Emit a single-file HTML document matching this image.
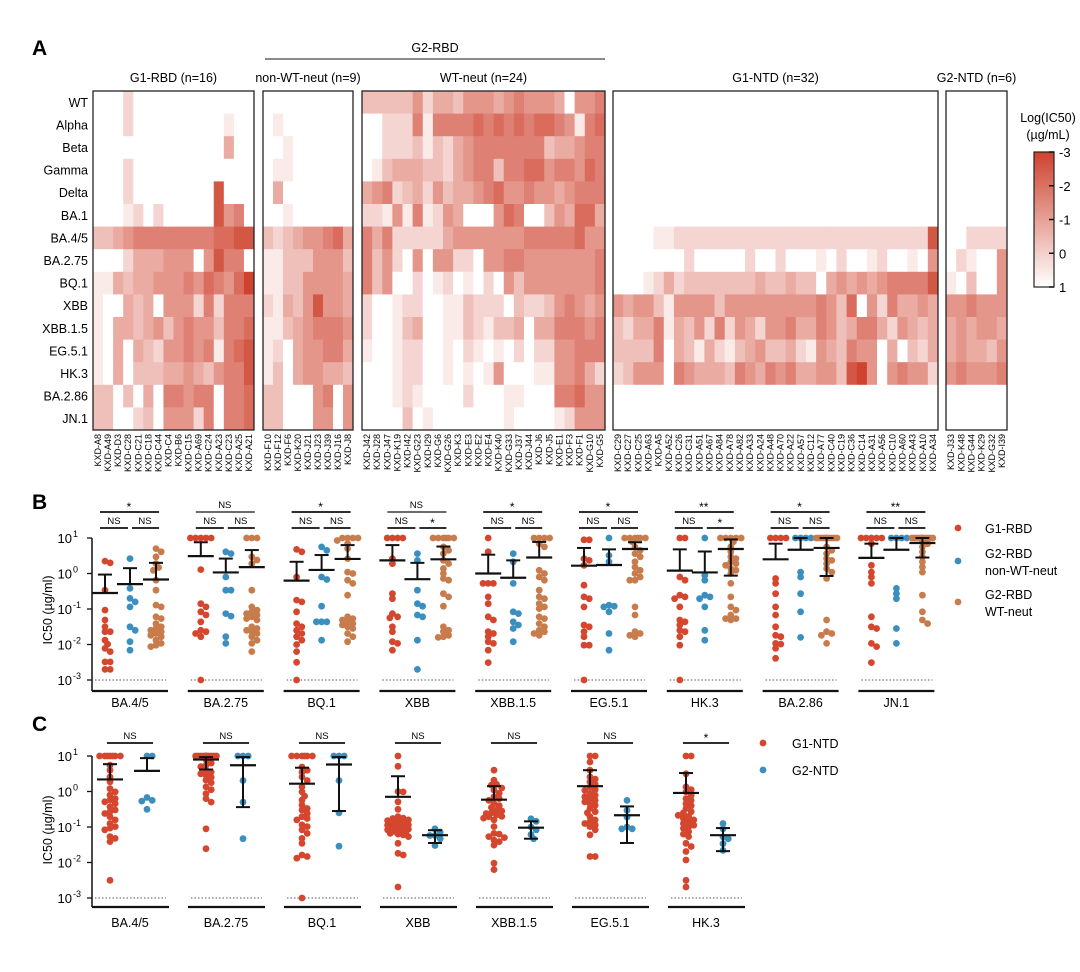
<!DOCTYPE html>
<html><head><meta charset="utf-8"><style>
html,body{margin:0;padding:0;background:#fff}
svg{display:block;font-family:"Liberation Sans",Arial,sans-serif}
</style></head><body>
<svg id="fig" width="1080" height="972" viewBox="0 0 1080 972" xmlns="http://www.w3.org/2000/svg"></svg>
<script>
// ---------- Panel A data (intensity codes 0..9 -> log IC50 = 1 - code*4/9) ----------
const variants=["WT","Alpha","Beta","Gamma","Delta","BA.1","BA.4/5","BA.2.75","BQ.1","XBB","XBB.1.5","EG.5.1","HK.3","BA.2.86","JN.1"];
const g1rbdCols=["KXD-A8","KXD-A49","KXD-D3","KXD-C28","KXD-C21","KXD-C18","KXD-C44","KXD-C4","KXD-B6","KXD-C15","KXD-A69","KXD-C24","KXD-A23","KXD-C23","KXD-A25","KXD-A21"];
const g1rbdCodes=["0002000000000000","0002000000000100","0000000000000400","0002000000000000","0002000000008000","0001202000008560","3345666666667788","0002444555058660","1143445556576579","1004340555262666","1044345356553667","1040432556561678","1040333445435668","3303040665660667","3300230555260667"];
const nonwtCols=["KXD-F10","KXD-F12","KXD-F6","KXD-K20","KXD-J21","KXD-J23","KXD-J39","KXD-J16","KXD-J8"];
const nonwtCodes=["000000000","010000000","001000000","011000000","040000000","001000000","323455674","113335553","113355554","214358554","113456665","120455664","130455443","330005605","330005505"];
const wtCols=["KXD-J42","KXD-J28","KXD-J47","KXD-K19","KXD-I42","KXD-G23","KXD-I29","KXD-G6","KXD-G26","KXD-K3","KXD-E3","KXD-E2","KXD-E4","KXD-K40","KXD-G33","KXD-J37","KXD-J44","KXD-J6","KXD-J5","KXD-E1","KXD-F3","KXD-F1","KXD-G10","KXD-G5"];
const wtCodes=["333335244355545655540556","002226166667676767765167","002223132456666666344566","013444332456636677566576","456234253445675565545666","221516125400057600354774","646222224555555566666755","635205055220556655555556","635002012010205355555556","200122001132220322356545","200134001132133404466656","100122001021010202255666","000122001010150001155642","000121000020001100066755","000030100000001000012555"];
const g1ntdCols=["KXD-C29","KXD-C27","KXD-C25","KXD-A63","KXD-A5","KXD-A52","KXD-C26","KXD-C31","KXD-A51","KXD-A67","KXD-A84","KXD-A78","KXD-A82","KXD-A33","KXD-A24","KXD-A48","KXD-A70","KXD-A22","KXD-A57","KXD-C12","KXD-A77","KXD-C40","KXD-C19","KXD-C36","KXD-C14","KXD-A31","KXD-A56","KXD-C10","KXD-A60","KXD-A43","KXD-A10","KXD-A34"];
const g1ntdCodes=["00000000 00000000 00000000 00000000","00000000 00000000 00000000 00000000","00000000 00000000 00000000 00000000","00000000 00000000 00000000 00000000","00000000 00000000 00000000 00000000","00000000 00000000 00000000 00000000",
"00001122 22222222 22222222 22222228","00000002 00000200 20001020 01200105","00012423 33333343 34330454 54566668","54553155 55355555 55556537 05264454","32446143 52625425 56446534 66425434","33336043 14213453 34215436 55040324","23555065 44436546 56445538 95056552","00000000 00000000 00000000 00000000","00000000 00000000 00000000 00000000"];
const g2ntdCols=["KXD-J33","KXD-K48","KXD-G44","KXD-K29","KXD-G32","KXD-I39"];
const g2ntdCodes=["000000","000000","000000","000000","000000","000000","002222","021005","103005","556555","454554","454435","565556","000000","000000"];
const cbTicks=["-3","-2","-1","0","1"];

// ---------- Panel B data (log10 IC50, µg/ml) ----------
const bVariants=["BA.4/5","BA.2.75","BQ.1","XBB","XBB.1.5","EG.5.1","HK.3","BA.2.86","JN.1"];
const bTopSig=["*","NS","*","NS","*","*","**","*","**"];
const bPair1Sig=["NS","NS","NS","NS","NS","NS","NS","NS","NS"];
const bPair2Sig=["NS","NS","NS","*","NS","NS","*","NS","NS"];
const bRed=[[0.35,0.3,-0.47,-1.03,-1.31,-1.5,-1.64,-1.64,-1.88,-1.99,-2.11,-2.2,-2.49,-2.49,-2.7,-2.7],[1,1,1,1,1,0.11,-0.85,-0.94,-1.08,-1.17,-1.36,-1.6,-1.64,-1.69,-1.78,-3],[0.68,0.61,-0.1,-0.75,-0.8,-1.08,-1.41,-1.5,-1.6,-1.69,-1.78,-1.88,-2.0,-2.2,-2.5,-3],[1,1,1,1,0.42,0.28,-0.57,-0.71,-1.13,-1.22,-1.25,-1.5,-1.64,-1.92,-1.97,-2.16],[1,0.61,-0.28,-0.28,-0.28,-0.66,-0.85,-1.22,-1.31,-1.64,-1.69,-1.78,-1.92,-1.97,-2.16,-2.51],[0.95,0.95,0.42,0.37,0.23,-0.33,-0.66,-0.71,-0.94,-1.45,-1.5,-1.64,-1.78,-2.02,-2.02,-3],[1,1,-0.1,-0.19,-0.61,-0.66,-0.71,-0.94,-1.31,-1.36,-1.45,-1.6,-1.64,-1.78,-2.02,-3],[1,1,1,1,-0.14,-0.28,-0.57,-0.94,-1.17,-1.5,-1.74,-1.78,-1.97,-1.99,-2.11,-2.39],[1,1,1,1,1,0.84,0.23,0.04,-0.1,-0.28,-1.22,-1.5,-1.55,-1.97,-2.06,-2.51]];
const bRedErr=[[-0.55,-0.03],[0.49,0.88],[-0.2,0.33],[0.37,0.8],[0.0,0.53],[0.22,0.72],[0.08,0.68],[0.4,0.84],[0.44,0.84]];
const bBlue=[[0.42,-0.42,-0.7,-0.8,-0.94,-1.5,-1.6,-1.92,-2.16],[0.61,0.56,-0.1,-0.47,-0.47,-1.13,-1.2,-1.78,-1.97],[0.75,0.65,-0.1,-0.17,-0.92,-1.36,-1.36,-1.36,-1.88],[0.56,0.37,-0.47,-0.85,-0.92,-1.17,-1.22,-1.88,-2.7],[0.56,0.33,-0.28,-1.08,-1.13,-1.36,-1.45,-1.55,-1.92],[1,0.51,0.33,-0.89,-0.92,-0.94,-1.08,-1.69,-2.16],[1,-0.05,-0.19,-0.61,-0.66,-0.71,-0.94,-1.6,-1.88],[1,1,1,1,0.04,-0.1,-0.57,-1.08,-1.8],[1,1,1,1,-0.42,-0.57,-0.71,-1.55,-1.97]];
const bBlueErr=[[-0.3,0.15],[0.03,0.42],[0.1,0.52],[-0.16,0.3],[-0.12,0.37],[0.24,0.68],[0.03,0.62],[0.67,1],[0.67,1]];
const bOrange=[[0.7,0.61,0.47,0.28,0.17,0.09,-0.19,-0.47,-0.89,-0.94,-1.22,-1.27,-1.41,-1.5,-1.55,-1.6,-1.64,-1.69,-1.74,-1.78,-1.88,-1.97,-2.02,-2.06],[1,1,1,0.47,0.38,0.28,-0.47,-0.94,-1.03,-1.08,-1.13,-1.17,-1.22,-1.27,-1.31,-1.5,-1.55,-1.6,-1.64,-1.69,-1.78,-1.88,-1.97,-2.2],[1,1,1,1,0.93,0.84,0.7,0.42,0.04,0.0,-0.19,-0.28,-0.61,-1.22,-1.27,-1.31,-1.36,-1.41,-1.45,-1.5,-1.55,-1.69,-1.78,-1.92],[1,1,1,1,1,1,0.75,0.65,0.56,0.37,0.28,0.14,0.0,-0.14,-0.19,-0.57,-0.66,-0.92,-1.5,-1.6,-1.64,-1.74,-1.78,-1.8],[1,1,1,1,0.84,0.75,0.09,0,-0.1,-0.19,-0.47,-0.66,-0.71,-0.85,-0.94,-0.99,-1.22,-1.27,-1.41,-1.5,-1.6,-1.64,-1.69,-1.74],[1,1,1,1,1,1,0.89,0.75,0.65,0.56,0.47,0.33,0.18,0.09,0,-0.1,-0.19,-0.19,-0.94,-1.17,-1.64,-1.69,-1.74,-1.78],[1,1,1,1,1,0.89,0.75,0.61,0.47,0.42,0.33,0.28,0.23,0.14,0.09,-0.0,-0.28,-0.66,-0.94,-1.03,-1.17,-1.27,-1.31,-1.27],[1,1,1,1,1,1,1,1,1,1,0.75,0.65,0.56,0.42,0.28,0.14,0.04,-0.14,-1.31,-1.64,-1.69,-1.74,-1.97,0.37],[1,1,1,1,1,1,1,1,1,1,1,1,0.84,0.61,0.33,0.04,-0.61,-1.08,-1.31,-1.41,0.89,0.75,0.47,0.18]];
const bOrangeErr=[[-0.17,0.3],[0.18,0.66],[0.41,0.8],[0.4,0.76],[0.45,0.89],[0.69,0.88],[0.69,0.96,-0.06],[0.72,1,-0.07],[0.86,1,0.45]];

// ---------- Panel C data ----------
const cVariants=["BA.4/5","BA.2.75","BQ.1","XBB","XBB.1.5","EG.5.1","HK.3"];
const cSig=["NS","NS","NS","NS","NS","NS","*"];
const cRed=[[1,1,1,1,1,1,1,0.74,0.6,0.41,0.27,0.08,-0.01,-0.1,-0.2,-0.24,-0.29,-0.34,-0.43,-0.52,-0.57,-0.62,-0.71,-0.8,-0.9,-0.99,-1.03,-1.08,-1.27,-1.32,-1.41,-2.5],[1,1,1,1,1,1,1,1,1,1,1,1,1,1,0.74,0.6,0.46,0.32,0.13,-0.06,-0.2,0.9,0.8,0.7,0.55,0.5,0.4,0.25,0.05,-0.3,-1.05,-1.61],[1,1,1,1,1,1,0.69,0.55,0.31,0.13,-0.01,-0.13,-0.24,-0.38,-0.48,-0.52,-0.62,-0.71,-0.76,-0.8,-0.94,-0.99,-1.08,-1.18,-1.32,-1.46,-1.79,-1.83,-1.88,-3,0.6,0.41],[1,0.71,-0.01,-0.29,-0.71,-0.76,-0.8,-0.85,-0.9,-0.94,-0.99,-1.04,-1.08,-1.13,-1.18,-1.22,-1.27,-1.46,-1.74,-1.79,-2.69,-0.75,-0.82,-0.88,-0.95,-1.0,-1.06,-1.1,-1.15,-1.2,0.0,-0.5],[0.6,0.32,0.18,0.04,-0.15,-0.34,-0.52,-0.62,-0.66,-0.71,-0.8,-0.99,-1.18,-1.27,-1.37,-1.41,-1.51,-2.02,-2.2,0.2,0.1,-0.05,-0.25,-0.4,-0.45,-0.55,-0.6,-0.7,-0.75,-1.2,-1.3,-0.2],[1,1,0.83,0.6,0.41,0.27,0.13,0.03,-0.11,-0.2,-0.29,-0.39,-0.48,-0.57,-0.71,-0.8,-0.9,-0.99,-1.08,-1.22,-1.83,-1.83,0.35,0.2,0.05,-0.05,-0.15,-0.25,-0.35,-0.6,-0.85,-0.95],[1,1,0.5,0.13,-0.01,-0.11,-0.25,-0.34,-0.48,-0.57,-0.67,-0.76,-0.85,-0.95,-1.04,-1.13,-1.27,-1.46,-1.55,-1.69,-1.93,-2.5,-2.69,0.05,-0.2,-0.4,-0.6,-0.7,-0.8,-0.9,-1.0,-1.2]];
const cRedErr=[[0.34,0.77],[0.9,0.97,0.62],[0.22,0.67],[-0.15,0.43],[-0.23,0.15],[0.15,0.6],[-0.04,0.52]];
const cBlue=[[1,1,-0.17,-0.25,-0.27,-0.5],[1,1,1,0.31,-0.3,-1.33],[1,1,1,0.31,-0.6,-1.54],[-1.05,-1.14,-1.24,-1.24,-1.33,-1.52],[-0.77,-0.84,-1.0,-1.08,-1.21,-1.33],[-0.25,-0.53,-0.72,-1.0,-1.05,-1.05],[-0.9,-1.05,-1.28,-1.33,-1.47,-1.66]];
const cBlueErr=[[0.58,0.94],[0.74,0.97,-0.44],[0.76,0.97,-0.55],[-1.23,-1.09,-1.45],[-1.02,-0.84,-1.33],[-0.67,-0.42,-1.45],[-1.23,-1.03,-1.68]];
const yTicks=[1,0,-1,-2,-3];

// ---------- drawing ----------
const NS="http://www.w3.org/2000/svg";
const svg=document.getElementById('fig');
function mk(tag,attrs,parent,text){const e=document.createElementNS(NS,tag);for(const k in attrs)e.setAttribute(k,attrs[k]);if(text!==undefined)e.textContent=text;(parent||svg).appendChild(e);return e;}
const RED="#d4472e",BLUE="#3b8fbf",ORANGE="#c87c4c";

let t=mk('text',{x:32,y:55,'font-size':21,'font-weight':'bold'},svg,'A');


const HT=91,HB=430,nR=variants.length,rh=(HB-HT)/nR;
function cellColor(code){const v=1-code*4/9;const f=(1-v)/4;const r=Math.round(255+(206-255)*f),g=Math.round(255+(66-255)*f),b=Math.round(255+(46-255)*f);return `rgb(${r},${g},${b})`;}
const panels=[
 {name:'g1-rbd',title:'G1-RBD (n=16)',cols:g1rbdCols,codes:g1rbdCodes,x0:93,x1:254},
 {name:'g2-rbd-non-wt-neut',title:'non-WT-neut (n=9)',cols:nonwtCols,codes:nonwtCodes,x0:263,x1:353},
 {name:'g2-rbd-wt-neut',title:'WT-neut (n=24)',cols:wtCols,codes:wtCodes,x0:362,x1:605},
 {name:'g1-ntd',title:'G1-NTD (n=32)',cols:g1ntdCols,codes:g1ntdCodes,x0:613,x1:938},
 {name:'g2-ntd',title:'G2-NTD (n=6)',cols:g2ntdCols,codes:g2ntdCodes,x0:946,x1:1007}];
panels.forEach(p=>{
  const g=mk('g',{});
  const cw=(p.x1-p.x0)/p.cols.length;
  p.codes.forEach((row,ri)=>{
    const s=row.replace(/ /g,'');
    for(let ci=0;ci<p.cols.length;ci++){
      const c=+s[ci]||0;
      const r=mk('rect',{x:(p.x0+ci*cw).toFixed(2),y:(HT+ri*rh).toFixed(2),width:(cw+0.4).toFixed(2),height:(rh+0.4).toFixed(2),fill:cellColor(c)},g);
      
    }
  });
  const b=mk('rect',{x:p.x0,y:HT,width:p.x1-p.x0,height:HB-HT,fill:'none',stroke:'#222','stroke-width':1.3},g);
  
  const tt=mk('text',{x:(p.x0+p.x1)/2,y:82,'font-size':12.5,'text-anchor':'middle'},g,p.title);
  
  p.cols.forEach((c,ci)=>{const x=p.x0+(ci+0.5)*cw+3;
    const l=mk('text',{x:0,y:0,'font-size':9,'text-anchor':'end',transform:`translate(${x.toFixed(1)},434) rotate(-90)`},g,c);
    });
});
variants.forEach((v,i)=>{const l=mk('text',{x:88,y:HT+(i+0.5)*rh+4.5,'font-size':12.5,'text-anchor':'end'},svg,v);
  });
let gl=mk('line',{x1:265,x2:605,y1:59,y2:59,stroke:'#444','stroke-width':1.2});
let gt=mk('text',{x:435,y:52,'font-size':12.5,'text-anchor':'middle'},svg,'G2-RBD');
const cb=mk('g',{});
const defs=mk('defs',{},svg);const lg=mk('linearGradient',{id:'cbg',x1:0,y1:0,x2:0,y2:1},defs);
mk('stop',{offset:'0','stop-color':cellColor(9)},lg);mk('stop',{offset:'1','stop-color':'#fff'},lg);
mk('rect',{x:1034,y:152,width:20,height:135,fill:'url(#cbg)',stroke:'#222','stroke-width':1.2},cb);
cbTicks.forEach((s,i)=>{const y=152+i*135/4;mk('line',{x1:1049,x2:1054,y1:y,y2:y,stroke:'#111','stroke-width':1.5},cb);
  const l=mk('text',{x:1059,y:y+5,'font-size':13},cb,s);});
let c1=mk('text',{x:1048,y:122,'font-size':12.5,'text-anchor':'middle'},svg,'Log(IC50)');
let c2=mk('text',{x:1048,y:139,'font-size':12.5,'text-anchor':'middle'},svg,'(µg/mL)');

// ---------- dot plot helpers ----------
function beeswarm(vals,x0,yf,g,color){
  const placed=[];const sorted=vals.slice().sort((a,b)=>b-a);
  const cands=[0];for(let k=1;k<=4;k++){cands.push(k*2.6,-k*2.6);}
  sorted.forEach((v,idx)=>{const y=yf(v);
    let dx=null;for(const c of cands){if(placed.every(p=>Math.hypot(p[0]-c,p[1]-y)>=4.6)){dx=c;break;}}
    if(dx===null){let best=0,bd=-1;for(const c of cands){const m=Math.min(...placed.map(p=>Math.hypot(p[0]-c,p[1]-y)));if(m>bd){bd=m;best=c;}}dx=best;}
    placed.push([dx,y]);
    const d=mk('circle',{cx:(x0+dx).toFixed(1),cy:y.toFixed(1),r:3.4,fill:color},g);
    });
}
function errbar(e,x,yf,g){
  const ym=yf(e[0]),yh=yf(e[1]);const yl=e.length>2?yf(e[2]):ym;
  mk('line',{x1:x,x2:x,y1:yh,y2:yl,stroke:'#111','stroke-width':2},g);
  mk('line',{x1:x-7,x2:x+7,y1:yh,y2:yh,stroke:'#111','stroke-width':2},g);
  mk('line',{x1:x-13,x2:x+13,y1:ym,y2:ym,stroke:'#111','stroke-width':2.2},g);
  if(e.length>2)mk('line',{x1:x-7,x2:x+7,y1:yl,y2:yl,stroke:'#111','stroke-width':2},g);
}
function yaxis(top,yf,bottom,name,titleY){
  const g=mk('g',{});
  mk('line',{x1:92,x2:92,y1:top,y2:bottom,stroke:'#111','stroke-width':1.5},g);
  yTicks.forEach(v=>{const y=yf(v);mk('line',{x1:87,x2:92,y1:y,y2:y,stroke:'#111','stroke-width':1.3},g);
    mk('text',{x:72,y:y+5,'font-size':13,'text-anchor':'end'},g,'10');
    mk('text',{x:73,y:y-1,'font-size':9},g,String(v));});
  const tl=mk('text',{x:0,y:0,'font-size':12.5,'text-anchor':'middle',transform:`translate(52,${titleY}) rotate(-90)`},g,'IC50 (µg/ml)');
  
}

// ---------- Panel B ----------
let tb=mk('text',{x:32,y:509,'font-size':21,'font-weight':'bold'},svg,'B');
const yB=v=>538+(1-v)*35.5;
yaxis(538,yB,691,'panel-b-y-axis',610);
bVariants.forEach((v,i)=>{
  const gx=92+95.8*i;const g=mk('g',{});
  mk('line',{x1:i?gx:92,x2:gx+76,y1:691,y2:691,stroke:'#111','stroke-width':2.2},g);
  mk('line',{x1:gx+3,x2:gx+74,y1:yB(-3),y2:yB(-3),stroke:'#555','stroke-width':1,'stroke-dasharray':'1.5,2'},g);
  const xl=mk('text',{x:gx+38,y:707,'font-size':12.5,'text-anchor':'middle'},g,v);
  const cx=[gx+13,gx+38,gx+64];
  beeswarm(bRed[i],cx[0],yB,g,RED);beeswarm(bBlue[i],cx[1],yB,g,BLUE);beeswarm(bOrange[i],cx[2],yB,g,ORANGE);
  errbar(bRedErr[i],cx[0],yB,g);errbar(bBlueErr[i],cx[1],yB,g);errbar(bOrangeErr[i],cx[2],yB,g);
  const sc=s=>s==='NS'?'#555':'#111';
  mk('line',{x1:gx+8,x2:gx+67,y1:512,y2:512,stroke:sc(bTopSig[i]),'stroke-width':1.8},g);
  mk('text',{x:gx+37,y:bTopSig[i]==='NS'?508:511,'font-size':bTopSig[i]==='NS'?9.5:12,'text-anchor':'middle'},g,bTopSig[i]);
  mk('line',{x1:gx+8,x2:gx+36,y1:528,y2:528,stroke:'#111','stroke-width':1.8},g);
  mk('line',{x1:gx+40,x2:gx+67,y1:528,y2:528,stroke:'#111','stroke-width':1.8},g);
  mk('text',{x:gx+22,y:524,'font-size':9.5,'text-anchor':'middle'},g,bPair1Sig[i]);
  mk('text',{x:gx+53,y:bPair2Sig[i]==='NS'?524:527,'font-size':bPair2Sig[i]==='NS'?9.5:12,'text-anchor':'middle'},g,bPair2Sig[i]);
});
const legB=mk('g',{});
[[528,RED,['G1-RBD']],[561,BLUE,['G2-RBD','non-WT-neut']],[602,ORANGE,['G2-RBD','WT-neut']]].forEach(([y,c,ls])=>{
  mk('circle',{cx:958,cy:y,r:3.4,fill:c},legB);
  ls.forEach((s,k)=>{const ty=ls.length===1?y+5:y-3+(k)*17;const tx=mk('text',{x:985,y:ty,'font-size':12.5},legB,s);});
});

// ---------- Panel C ----------
let tc=mk('text',{x:32,y:731,'font-size':21,'font-weight':'bold'},svg,'C');
const yC=v=>756+(1-v)*35.5;
yaxis(756,yC,907,'panel-c-y-axis',830);
cVariants.forEach((v,i)=>{
  const gx=92+96*i;const g=mk('g',{});
  mk('line',{x1:i?gx:92,x2:gx+77,y1:907,y2:907,stroke:'#111','stroke-width':2.2},g);
  mk('line',{x1:gx+3,x2:gx+74,y1:yC(-3),y2:yC(-3),stroke:'#555','stroke-width':1,'stroke-dasharray':'1.5,2'},g);
  const xl=mk('text',{x:gx+38,y:927,'font-size':12.5,'text-anchor':'middle'},g,v);
  beeswarm(cRed[i],gx+18,yC,g,RED);beeswarm(cBlue[i],gx+55,yC,g,BLUE);
  errbar(cRedErr[i],gx+18,yC,g);errbar(cBlueErr[i],gx+55,yC,g);
  mk('line',{x1:gx+15,x2:gx+61,y1:743,y2:743,stroke:'#111','stroke-width':1.8},g);
  mk('text',{x:gx+38,y:cSig[i]==='NS'?739:742,'font-size':cSig[i]==='NS'?9.5:12,'text-anchor':'middle'},g,cSig[i]);
});
const legC=mk('g',{});
[[743,RED,'G1-NTD'],[770,BLUE,'G2-NTD']].forEach(([y,c,s])=>{mk('circle',{cx:763,cy:y,r:3.4,fill:c},legC);
  const tx=mk('text',{x:792,y:y+5,'font-size':12.5},legC,s);});
</script>
</body></html>
